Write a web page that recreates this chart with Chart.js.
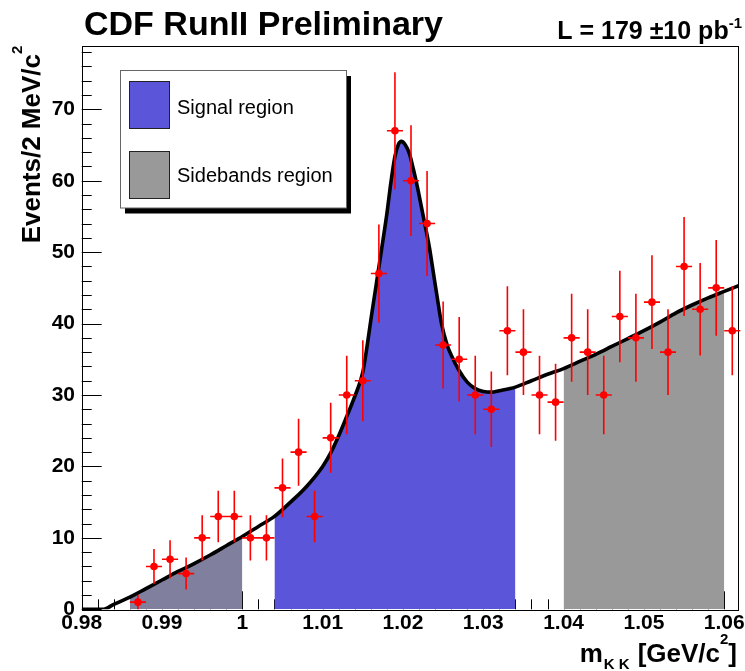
<!DOCTYPE html>
<html>
<head>
<meta charset="utf-8">
<script src="https://cdn.jsdelivr.net/npm/chart.js@4.4.1/dist/chart.umd.min.js"></script>
<style>
  html, body { margin: 0; padding: 0; background: #fff; }
  canvas { display: block; }
</style>
</head>
<body>
<canvas id="kkChart" width="745" height="671"></canvas>
<script>
// m(KK) spectrum, 2 MeV bins
const binCenters = [0.987, 0.989, 0.991, 0.993, 0.995, 0.997, 0.999, 1.001, 1.003, 1.005,
                    1.007, 1.009, 1.011, 1.013, 1.015, 1.017, 1.019, 1.021, 1.023, 1.025,
                    1.027, 1.029, 1.031, 1.033, 1.035, 1.037, 1.039, 1.041, 1.043, 1.045,
                    1.047, 1.049, 1.051, 1.053, 1.055, 1.057, 1.059, 1.061];
const events = [1, 6, 7, 5, 10, 13, 13, 10, 10, 17,
                22, 13, 24, 30, 32, 47, 67, 60, 54, 37,
                35, 30, 28, 39, 36, 30, 29, 38, 36, 30,
                41, 38, 43, 36, 48, 42, 45, 39];
const eventErrors = [1.0, 2.45, 2.65, 2.24, 3.16, 3.61, 3.61, 3.16, 3.16, 4.12,
                     4.69, 3.61, 4.90, 5.48, 5.66, 6.86, 8.19, 7.75, 7.35, 6.08,
                     5.92, 5.48, 5.29, 6.24, 6.00, 5.48, 5.39, 6.16, 6.00, 5.48,
                     6.40, 6.16, 6.56, 6.00, 6.93, 6.48, 6.71, 6.24];
const binHalfWidth = 0.001;

// fitted signal + background curve
const fitMass = [0.980, 0.9827, 0.984, 0.986, 0.988, 0.990, 0.992, 0.994, 0.996, 0.998,
                 1.000, 1.002, 1.004, 1.006, 1.008, 1.010, 1.011, 1.012, 1.013, 1.014,
                 1.015, 1.0155, 1.016, 1.0165, 1.017, 1.0175, 1.018, 1.0185, 1.019, 1.0194,
                 1.0198, 1.0203, 1.0208, 1.0213, 1.0218, 1.0223, 1.0228, 1.0233, 1.0238, 1.0243,
                 1.0248, 1.0255, 1.026, 1.027, 1.028, 1.029, 1.030, 1.031, 1.032, 1.034,
                 1.036, 1.038, 1.040, 1.042, 1.044, 1.046, 1.048, 1.050, 1.052, 1.054,
                 1.056, 1.058, 1.060, 1.0618];
const fitEvents = [0, 0, 0.7, 1.7, 2.9, 4.1, 5.3, 6.4, 7.6, 8.9,
                   10.2, 11.6, 13.0, 15.0, 17.2, 20.0, 21.9, 24.3, 27.0, 29.8,
                   33.2, 36.6, 40.5, 44.2, 47.9, 51.6, 55.4, 59.8, 63.4, 65.0,
                   65.5, 65.0, 63.8, 61.6, 59.1, 56.3, 53.5, 50.6, 47.0, 43.4,
                   40.0, 37.0, 35.6, 33.4, 31.8, 30.9, 30.5, 30.4, 30.6, 31.1,
                   32.0, 32.9, 33.7, 34.7, 35.7, 36.8, 37.9, 39.0, 40.2, 41.5,
                   42.6, 43.6, 44.5, 45.3];

const signalRegion = [1.004, 1.034];
const lowSideband = [0.986, 1.000];
const highSideband = [1.040, 1.060];

const xTicks = [0.98, 0.99, 1.00, 1.01, 1.02, 1.03, 1.04, 1.05, 1.06];
const xTickLabels = ['0.98', '0.99', '1', '1.01', '1.02', '1.03', '1.04', '1.05', '1.06'];
const yTicks = [0, 10, 20, 30, 40, 50, 60, 70];
const xMinorStep = 0.002;
const yMinorStep = 2;

const SIGNAL_BLUE = 'rgb(90, 85, 217)';
const SIDEBAND_GREY = 'rgb(153, 153, 153)';
const LOW_SIDEBAND = 'rgb(128, 128, 158)';

const fitPoints = fitMass.map((x, i) => ({ x: x, y: fitEvents[i] }));
const dataPoints = binCenters.map((x, i) => ({ x: x, y: events[i] }));

function regionPoints(range) {
    return fitPoints.filter(p => p.x >= range[0] - 1e-9 && p.x <= range[1] + 1e-9);
}

function regionDataset(range, colour) {
    return {
        type: 'line',
        data: regionPoints(range),
        borderColor: 'rgba(0,0,0,0)',
        borderWidth: 0,
        backgroundColor: colour,
        fill: 'origin',
        pointRadius: 0,
        cubicInterpolationMode: 'monotone'
    };
}

// frame plus ROOT-style ticks drawn on the inside
const frameTicks = {
    id: 'frameTicks',
    beforeDatasetsDraw(chart) {
        const { ctx, chartArea: a, scales: { x, y } } = chart;
        ctx.save();
        ctx.strokeStyle = '#000';
        ctx.lineWidth = 1;
        ctx.beginPath();
        yTicks.forEach(v => {
            const py = Math.round(y.getPixelForValue(v)) + 0.5;
            ctx.moveTo(a.left, py); ctx.lineTo(a.left + 20, py);
        });
        for (let v = yMinorStep; v < y.max; v += yMinorStep) {
            if (v % 10 === 0) continue;
            const py = Math.round(y.getPixelForValue(v)) + 0.5;
            ctx.moveTo(a.left, py); ctx.lineTo(a.left + 10, py);
        }
        xTicks.forEach(v => {
            const px = Math.round(x.getPixelForValue(v)) + 0.5;
            ctx.moveTo(px, a.bottom); ctx.lineTo(px, a.bottom - 18);
        });
        for (let i = 1; x.min + i * xMinorStep < x.max; i++) {
            if (i % 5 === 0) continue;
            const px = Math.round(x.getPixelForValue(x.min + i * xMinorStep)) + 0.5;
            ctx.moveTo(px, a.bottom); ctx.lineTo(px, a.bottom - 10);
        }
        ctx.stroke();
        ctx.restore();
    },
    afterDatasetsDraw(chart) {
        const { ctx, chartArea: a, scales: { x, y } } = chart;
        ctx.save();
        ctx.strokeStyle = '#000';
        ctx.lineWidth = 1;
        ctx.strokeRect(Math.round(a.left) + 0.5, Math.round(a.top) + 0.5,
                       Math.round(a.right - a.left) - 1, Math.round(a.bottom - a.top));

        // error bars on the data points
        ctx.strokeStyle = '#ff0000';
        ctx.lineWidth = 1.6;
        ctx.beginPath();
        binCenters.forEach((m, i) => {
            const px = x.getPixelForValue(m);
            const py = y.getPixelForValue(events[i]);
            ctx.moveTo(px, y.getPixelForValue(events[i] - eventErrors[i]));
            ctx.lineTo(px, y.getPixelForValue(events[i] + eventErrors[i]));
            ctx.moveTo(x.getPixelForValue(m - binHalfWidth), py);
            ctx.lineTo(x.getPixelForValue(m + binHalfWidth), py);
        });
        ctx.stroke();
        ctx.restore();
    }
};

function piecesWidth(ctx, pieces) {
    let w = 0;
    pieces.forEach(p => { ctx.font = p.font; w += ctx.measureText(p.text).width + (p.gap || 0); });
    return w;
}

function drawPieces(ctx, pieces, x0, y0) {
    let x = x0;
    pieces.forEach(p => {
        ctx.font = p.font;
        ctx.fillText(p.text, x, y0 + (p.dy || 0));
        x += ctx.measureText(p.text).width + (p.gap || 0);
    });
}

// titles, axis titles and the region legend
const annotations = {
    id: 'annotations',
    afterDraw(chart) {
        const { ctx, chartArea: a } = chart;
        const bold = s => 'bold ' + s + 'px "Liberation Sans", Arial, sans-serif';
        const plain = s => s + 'px "Liberation Sans", Arial, sans-serif';
        ctx.save();
        ctx.fillStyle = '#000';
        ctx.textBaseline = 'alphabetic';
        ctx.textAlign = 'left';

        ctx.font = bold(34);
        ctx.fillText('CDF RunII Preliminary', 84, 35);

        const lumi = [
            { text: 'L = 179 \u00b110 pb', font: bold(25) },
            { text: '-1', font: bold(15), dy: -11 }
        ];
        drawPieces(ctx, lumi, 742 - piecesWidth(ctx, lumi), 39);

        // x axis title
        const xTitle = [
            { text: 'm', font: bold(26), gap: 1 },
            { text: 'K K', font: bold(15), dy: 7, gap: 8 },
            { text: '[GeV/c', font: bold(26) },
            { text: '2', font: bold(15), dy: -18 },
            { text: ']', font: bold(26) }
        ];
        drawPieces(ctx, xTitle, 737 - piecesWidth(ctx, xTitle), 662);

        // y axis title, rotated and flush with the top of the frame
        const yTitle = [
            { text: 'Events/2 MeV/c', font: bold(26) },
            { text: '2', font: bold(15), dy: -18 }
        ];
        ctx.save();
        ctx.translate(39.5, a.top);
        ctx.rotate(-Math.PI / 2);
        drawPieces(ctx, yTitle, -piecesWidth(ctx, yTitle), 0);
        ctx.restore();

        // legend box with drop shadow
        ctx.fillStyle = '#000';
        ctx.fillRect(125, 76, 226, 137.5);
        ctx.fillStyle = '#fff';
        ctx.fillRect(120.5, 70.5, 226, 137.5);
        ctx.strokeStyle = '#666';
        ctx.lineWidth = 1;
        ctx.strokeRect(120.5, 70.5, 226, 137.5);

        const swatches = [
            { colour: SIGNAL_BLUE, top: 81, label: 'Signal region', base: 114 },
            { colour: SIDEBAND_GREY, top: 151, label: 'Sidebands region', base: 182 }
        ];
        swatches.forEach(s => {
            ctx.fillStyle = s.colour;
            ctx.fillRect(129, s.top, 40, 47);
            ctx.strokeStyle = '#222';
            ctx.strokeRect(129.5, s.top + 0.5, 40, 47);
            ctx.fillStyle = '#000';
            ctx.font = plain(20);
            ctx.fillText(s.label, 177, s.base);
        });
        ctx.restore();
    }
};

new Chart(document.getElementById('kkChart'), {
    type: 'scatter',
    data: {
        datasets: [
            {
                type: 'scatter',
                data: dataPoints,
                backgroundColor: '#ff0000',
                borderWidth: 0,
                pointRadius: 3.8
            },
            {
                type: 'line',
                data: fitPoints,
                borderColor: '#000',
                borderWidth: 3.6,
                pointRadius: 0,
                fill: false,
                cubicInterpolationMode: 'monotone'
            },
            regionDataset(signalRegion, SIGNAL_BLUE),
            regionDataset(lowSideband, LOW_SIDEBAND),
            regionDataset(highSideband, SIDEBAND_GREY)
        ]
    },
    options: {
        responsive: false,
        animation: false,
        devicePixelRatio: 1,
        events: [],
        layout: { padding: { top: 45.7, right: 6.3, left: 0, bottom: 0 } },
        plugins: {
            legend: { display: false },
            tooltip: { enabled: false }
        },
        scales: {
            x: {
                type: 'linear',
                position: 'bottom',
                min: 0.98,
                max: 1.0618,
                afterBuildTicks: s => { s.ticks = xTicks.map(v => ({ value: v })); },
                afterFit: s => { s.height = 61.7; s.paddingLeft = 0; s.paddingRight = 0; },
                grid: { drawOnChartArea: false, drawTicks: false },
                border: { display: false },
                ticks: {
                    autoSkip: false,
                    maxRotation: 0,
                    padding: 3,
                    color: '#000',
                    font: { family: '"Liberation Sans", Arial, sans-serif', size: 21, weight: 'bold', lineHeight: 1 },
                    callback: (v, i) => xTickLabels[i]
                }
            },
            y: {
                type: 'linear',
                min: 0,
                max: 78.9,
                afterBuildTicks: s => { s.ticks = yTicks.map(v => ({ value: v })); },
                afterFit: s => { s.width = 81.7; },
                grid: { drawOnChartArea: false, drawTicks: false },
                border: { display: false },
                ticks: {
                    padding: 6.7,
                    color: '#000',
                    font: { family: '"Liberation Sans", Arial, sans-serif', size: 21, weight: 'bold' },
                    callback: v => String(v)
                }
            }
        }
    },
    plugins: [frameTicks, annotations]
});
</script>
</body>
</html>
